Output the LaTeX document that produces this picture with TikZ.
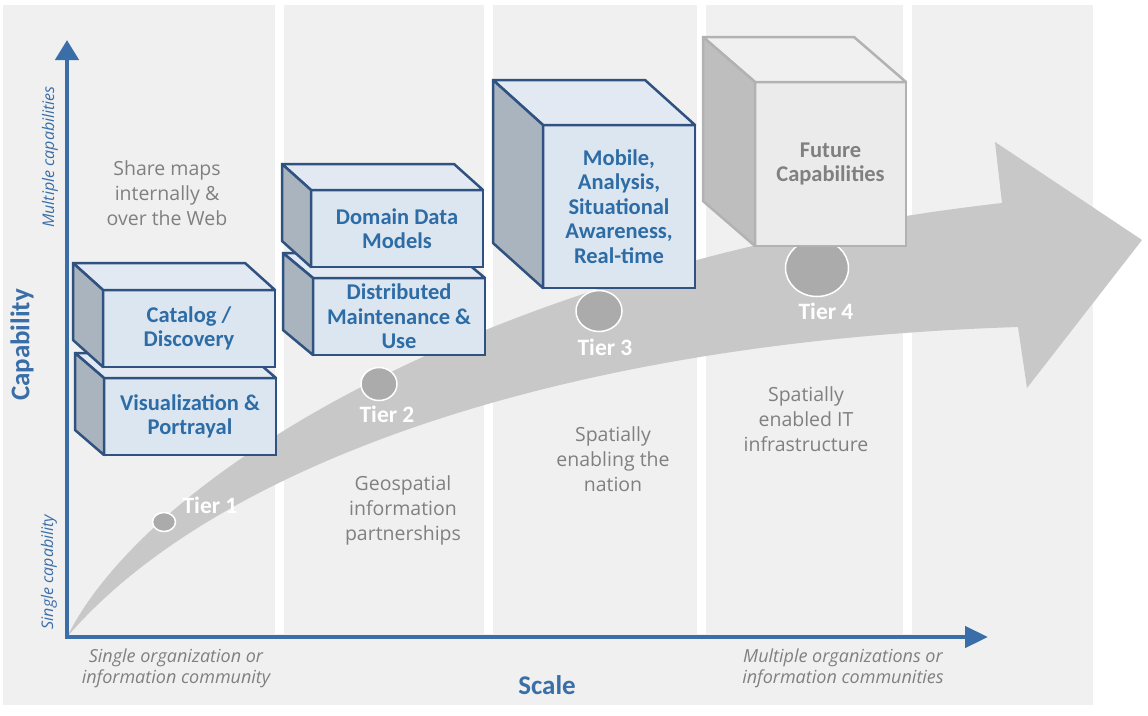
\documentclass[tikz,border=0pt]{standalone}
\usepackage{fontspec}
\setmainfont{Open Sans}
\newfontfamily\calibri{Carlito}
\usetikzlibrary{arrows.meta,shapes.geometric}

\definecolor{fond}{RGB}{240,240,240}
\definecolor{bleu}{RGB}{58,110,168}
\definecolor{bleufonce}{RGB}{47,82,128}
\definecolor{bleutexte}{RGB}{46,108,165}
\definecolor{cface}{RGB}{220,230,241}
\definecolor{cdessus}{RGB}{226,233,242}
\definecolor{ccote}{RGB}{170,180,190}
\definecolor{bande}{RGB}{200,200,200}
\definecolor{cpastille}{RGB}{171,171,171}
\definecolor{texte}{RGB}{128,128,128}
\definecolor{gface}{RGB}{235,235,235}
\definecolor{gdessus}{RGB}{240,240,240}
\definecolor{gcote}{RGB}{190,190,190}
\definecolor{gbord}{RGB}{178,178,178}

\tikzset{
  axe/.style={draw=bleu, line width=4.5pt,
    arrows={Triangle[length=20pt,width=23pt]-Triangle[length=23pt,width=21pt]}},
  bloc/.style={draw=bleufonce, line width=2.5pt, fill=cface, outer sep=0pt,
    text=bleutexte, align=center, inner sep=0pt,
    font=\calibri\bfseries\fontsize{22.5}{24.5}\selectfont},
  arete/.style={draw=bleufonce, line width=2.5pt, line join=round},
  blocgris/.style={bloc, draw=gbord, fill=gface, text=texte},
  aretegris/.style={arete, draw=gbord},
  pastille/.style={ellipse, draw=white, line width=1.5pt, fill=cpastille, inner sep=0pt},
  palier/.style={text=white, font=\calibri\bfseries\fontsize{23.5}{24}\selectfont},
  legende/.style={text=texte, align=center, font=\fontsize{19.5}{25}\selectfont},
  note/.style={text=texte, align=center, font=\itshape\fontsize{18}{21}\selectfont},
  noteaxe/.style={text=bleu, rotate=90, font=\itshape\fontsize{16}{20}\selectfont},
  titre/.style={text=bleu, font=\calibri\bfseries\fontsize{27}{30}\selectfont}
}

\begin{document}
\begin{tikzpicture}[x=1pt,y=-1pt]
\useasboundingbox (0,0) rectangle (1148,715);

% Fond
\fill[fond] (3,5) rectangle (1093,705);
\foreach \xs in {275,484,697,903}
{
    \fill[white] (\xs,5) rectangle (\xs+9,634);
}

% Repères
\coordinate (origine) at (67,637);
\coordinate (haut) at (67,40);
\coordinate (droite) at (988,637);

% Flèche courbe
\fill[bande]
(origine)
.. controls (150,470) and (500,260) ..
(1002,203)
--
(995,142)
--
(1142,240)
--
(1027,388)
--
(1018,327)
.. controls (550,342) and (210,470) ..
(origine)
-- cycle;

% Axes
\draw[axe] (haut) -- (origine) -- (droite);

\node[noteaxe] (multi) at (50,157) {Multiple capabilities};
\node[noteaxe] (single) at (49,572) {Single capability};
\node[titre, rotate=90] (capa) at (22,345) {Capability};
\node[titre] (scale) at (547,685) {Scale};
\node[note] (org1) at (176,668) {Single organization or\\information community};
\node[note] (org2) at (843,668) {Multiple organizations or\\information communities};

% Paliers
\node[pastille, minimum width=23pt, minimum height=19pt] (p1) at (164,522) {};
\node[pastille, minimum width=36pt, minimum height=33pt] (p2) at (379,384) {};
\node[pastille, minimum width=46pt, minimum height=41pt] (p3) at (599,311) {};
\node[pastille, minimum width=63pt, minimum height=57pt] (p4) at (817,268) {};

\node[palier] (t1) at (210,505) {Tier 1};
\node[palier] (t2) at (387,414) {Tier 2};
\node[palier] (t3) at (605,347) {Tier 3};
\node[palier] (t4) at (826,311) {Tier 4};

% Légendes
\node[legende] (l1) at (167,193) {Share maps\\internally \&\\over the Web};
\node[legende] (l2) at (403,510) {Geospatial\\information\\partnerships};
\node[legende] (l3) at (613,459) {Spatially\\enabling the\\nation};
\node[legende] (l4) at (806,419) {Spatially\\enabled IT\\infrastructure};

% Blocs
\foreach \nom/\cx/\cy/\lar/\hau/\prx/\pry/\txt in {
    visu/190/416.5/172/77/29/25/{Visualization \&\\Portrayal},
    catalog/189/328.5/172/77/30/27/{Catalog /\\Discovery},
    distrib/399/316.5/172/77/30/25/{Distributed\\Maintenance \&\\Use},
    domain/397/228.5/172/77/29/26/{Domain Data\\Models},
    mobile/619/206.5/152/163/50/45/{Mobile,\\Analysis,\\Situational\\Awareness,\\Real-time}}
{
    \node[bloc, minimum width=\lar pt, minimum height=\hau pt] (\nom) at (\cx,\cy) {\txt};
    \draw[arete, fill=cdessus]
    (\nom.north west)
    --
    ([shift={(-\prx,-\pry)}]\nom.north west)
    --
    ([shift={(-\prx,-\pry)}]\nom.north east)
    --
    (\nom.north east)
    -- cycle;
    \draw[arete, fill=ccote]
    (\nom.north west)
    --
    ([shift={(-\prx,-\pry)}]\nom.north west)
    --
    ([shift={(-\prx,-\pry)}]\nom.south west)
    --
    (\nom.south west)
    -- cycle;
}

% Bloc futur
\node[blocgris, minimum width=151pt, minimum height=164pt] (futur) at (830.5,164) {Future\\Capabilities};
\draw[aretegris, fill=gdessus]
(futur.north west)
--
([shift={(-52,-45)}]futur.north west)
--
([shift={(-52,-45)}]futur.north east)
--
(futur.north east)
-- cycle;
\draw[aretegris, fill=gcote]
(futur.north west)
--
([shift={(-52,-45)}]futur.north west)
--
([shift={(-52,-45)}]futur.south west)
--
(futur.south west)
-- cycle;

\end{tikzpicture}
\end{document}
